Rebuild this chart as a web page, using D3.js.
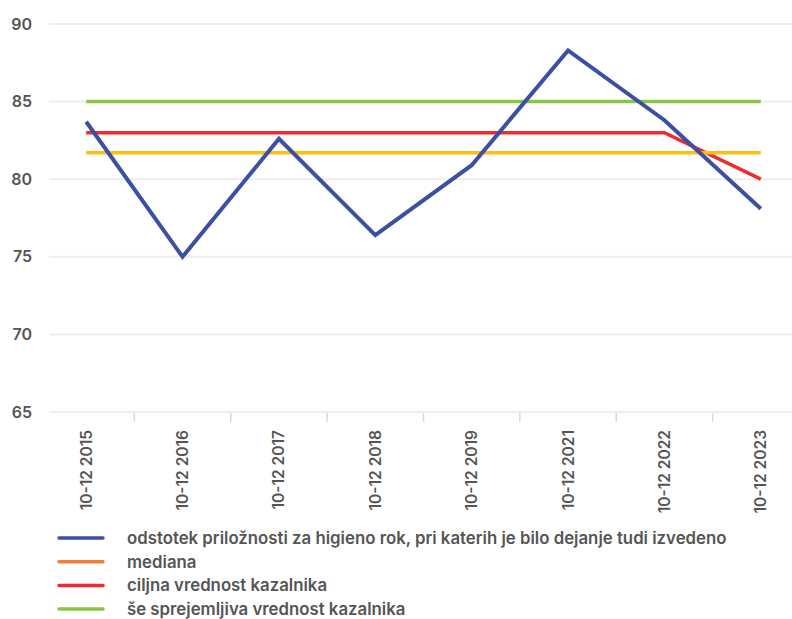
<!DOCTYPE html>
<html>
<head>
<meta charset="utf-8">
<script src="https://cdn.jsdelivr.net/npm/d3@7"></script>
<style>
  body { margin: 0; background: #fff; }
  svg text { font-family: Inter, "Noto Sans", sans-serif; }
</style>
</head>
<body>
<div id="chart"></div>
<script>
const WIDTH  = 792;
const HEIGHT = 619;

// Data
const periods  = ['10-12 2015', '10-12 2016', '10-12 2017', '10-12 2018',
                  '10-12 2019', '10-12 2021', '10-12 2022', '10-12 2023'];
const odstotek = [83.7, 75.0, 82.6, 76.4, 80.9, 88.3, 83.8, 78.1];
const mediana  = [81.7, 81.7, 81.7, 81.7, 81.7, 81.7, 81.7, 81.7];
const ciljna   = [83, 83, 83, 83, 83, 83, 83, 80];
const sprejem  = [85, 85, 85, 85, 85, 85, 85, 85];
const yTicks   = [65, 70, 75, 80, 85, 90];

const series = [
  { name: 'odstotek priložnosti za higieno rok, pri katerih je bilo dejanje tudi izvedeno', values: odstotek, color: '#3b50a3', legend: '#3b50a3' },
  { name: 'mediana', values: mediana, color: '#fdbf12', legend: '#f07f35' },
  { name: 'ciljna vrednost kazalnika', values: ciljna, color: '#ee2b2e', legend: '#ee2b2e' },
  { name: 'še sprejemljiva vrednost kazalnika', values: sprejem, color: '#8cc543', legend: '#8cc543' }
];

const COLORS = {
  grid: '#eeeeee',
  tick: '#d8d8d8',
  text: '#555555'
};

const PLOT = { left: 38, right: 809, top: 24, bottom: 412, gridLeft: 49, gridRight: 792 };

var svg = d3.select('#chart').append('svg')
  .attr('width', WIDTH)
  .attr('height', HEIGHT);

var x = d3.scaleBand()
  .domain(periods)
  .range([PLOT.left, PLOT.right]);
var y = d3.scaleLinear()
  .domain([65, 90])
  .range([PLOT.bottom, PLOT.top]);

// Grid lines
svg.append('g')
  .selectAll('line')
  .data(yTicks)
  .enter().append('line')
    .attr('x1', PLOT.gridLeft)
    .attr('x2', PLOT.gridRight)
    .attr('y1', d => y(d))
    .attr('y2', d => y(d))
    .style('stroke', COLORS.grid)
    .style('stroke-width', 2);

// Y labels
svg.append('g')
  .selectAll('text')
  .data(yTicks)
  .enter().append('text')
    .attr('x', 32)
    .attr('y', d => y(d))
    .attr('dy', '0.35em')
    .attr('text-anchor', 'end')
    .attr('font-size', 16)
    .attr('font-weight', 600)
    .style('fill', COLORS.text)
    .text(d => d);

// Band ticks
svg.append('g')
  .selectAll('line')
  .data(periods.slice(1))
  .enter().append('line')
    .attr('x1', d => x(d))
    .attr('x2', d => x(d))
    .attr('y1', PLOT.bottom + 1)
    .attr('y2', PLOT.bottom + 10)
    .style('stroke', COLORS.tick)
    .style('stroke-width', 1.5);

// X labels
svg.append('g')
  .selectAll('text')
  .data(periods)
  .enter().append('text')
    .attr('transform', d => `translate(${x(d) + x.bandwidth() / 2},${PLOT.bottom + 18}) rotate(-90)`)
    .attr('dy', '0.35em')
    .attr('text-anchor', 'end')
    .attr('font-size', 15.5)
    .attr('font-weight', 600)
    .style('fill', COLORS.text)
    .text(d => d);

// Lines
var line = d3.line()
  .x((d, i) => x(periods[i]) + x.bandwidth() / 2)
  .y(d => y(d));

for (let s of series.slice().reverse()) {
  svg.append('path')
    .datum(s.values)
    .attr('d', line)
    .style('fill', 'none')
    .style('stroke', s.color)
    .style('stroke-width', s === series[0] ? 4 : 3.5)
    .style('stroke-linejoin', 'miter');
}

// Legend
var legend = svg.append('g')
  .selectAll('g')
  .data(series)
  .enter().append('g')
    .attr('transform', (d, i) => `translate(0,${538 + i * 23.7})`);

legend.append('line')
  .attr('x1', 59)
  .attr('x2', 103)
  .style('stroke', d => d.legend)
  .style('stroke-width', 3.5)
  .style('stroke-linecap', 'round');

legend.append('text')
  .attr('x', 127)
  .attr('dy', '0.35em')
  .attr('font-size', 16.8)
  .attr('font-weight', 600)
  .style('fill', COLORS.text)
  .text(d => d.name);
</script>
</body>
</html>
